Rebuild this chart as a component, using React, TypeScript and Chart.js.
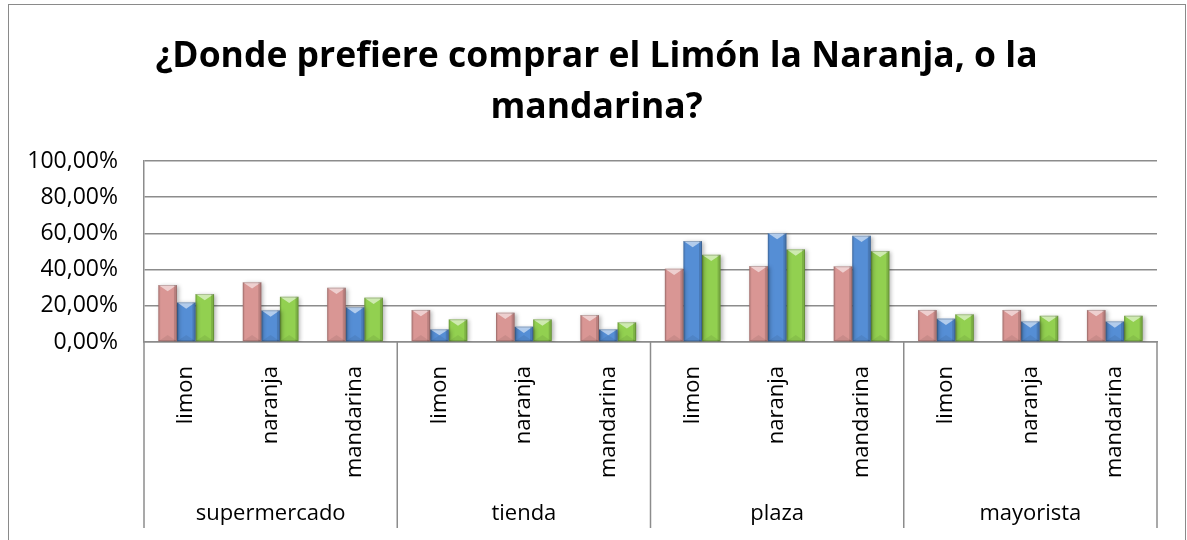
import React, { useEffect, useRef } from 'react';
import { Chart, registerables } from 'chart.js';

Chart.register(...registerables);

const groups = ['supermercado', 'tienda', 'plaza', 'mayorista'];
const fruits = ['limon', 'naranja', 'mandarina'];
const seriesNames = ['Serie 1', 'Serie 2', 'Serie 3'];
const serie1 = [31.5, 33.0, 30.0, 17.7, 16.2, 14.9, 40.5, 42.0, 41.8, 17.7, 17.7, 17.7];
const serie2 = [21.9, 17.5, 19.3, 7.0, 8.5, 7.0, 55.8, 60.2, 58.7, 12.9, 11.4, 11.4];
const serie3 = [26.5, 25.0, 24.5, 12.5, 12.5, 10.9, 48.2, 51.2, 50.3, 15.3, 14.5, 14.5];
const yTicks = [0, 20, 40, 60, 80, 100];
const titleLines = ['¿Donde prefiere comprar el Limón la Naranja, o la', 'mandarina?'];

const categories = groups.flatMap(() => fruits);
const seriesColors = ['#D99694', '#558ED5', '#92D050'];

const FONT = "'Open Sans', 'DejaVu Sans', sans-serif";
const LINE = '#8c8c8c';

const framePlugin = {
  id: 'frame',
  beforeDraw(chart: any) {
    const ctx = chart.ctx;
    ctx.save();
    ctx.fillStyle = '#ffffff';
    ctx.fillRect(0, 0, chart.width, chart.height);
    ctx.strokeStyle = '#8a8a8a';
    ctx.lineWidth = 1;
    ctx.strokeRect(8.5, 4.5, chart.width - 10, chart.height + 20);
    ctx.restore();
  },
  beforeDatasetsDraw(chart: any) {
    const ctx = chart.ctx;
    ctx.save();
    ctx.shadowColor = 'rgba(0,0,0,0.28)';
    ctx.shadowBlur = 4;
    ctx.shadowOffsetX = 2;
    ctx.shadowOffsetY = 1;
  },
  afterDatasetsDraw(chart: any) {
    const ctx = chart.ctx;
    ctx.restore();
    ctx.save();
    chart.data.datasets.forEach((_: any, di: number) => {
      const meta = chart.getDatasetMeta(di);
      meta.data.forEach((bar: any) => {
        const { x, y, base, width } = bar.getProps(['x', 'y', 'base', 'width'], true);
        const l = x - width / 2;
        const r = x + width / 2;
        const h = base - y;
        const t = Math.min(width * 0.34, h / 2);
        ctx.fillStyle = 'rgba(255,255,255,0.55)';
        ctx.beginPath();
        ctx.moveTo(l, y);
        ctx.lineTo(r, y);
        ctx.lineTo(x, y + t);
        ctx.closePath();
        ctx.fill();
        ctx.fillStyle = 'rgba(0,0,0,0.07)';
        ctx.beginPath();
        ctx.moveTo(l, base);
        ctx.lineTo(r, base);
        ctx.lineTo(x, base - t);
        ctx.closePath();
        ctx.fill();
        ctx.fillStyle = 'rgba(0,0,0,0.06)';
        ctx.fillRect(l, y, 2, h);
        ctx.fillStyle = 'rgba(0,0,0,0.14)';
        ctx.fillRect(r - 3, y, 3, h);
        ctx.strokeStyle = 'rgba(0,0,0,0.18)';
        ctx.lineWidth = 1;
        ctx.strokeRect(l + 0.5, y + 0.5, width - 1, h - 1);
      });
    });
    ctx.restore();
  },
  afterDraw(chart: any) {
    const ctx = chart.ctx;
    const xs = chart.scales.x;
    const x2 = chart.scales.x2;
    const half = (xs.getPixelForValue(1) - xs.getPixelForValue(0)) / 2;
    const top = chart.chartArea.bottom;
    const bottom = x2.bottom - 12;
    ctx.save();
    ctx.strokeStyle = LINE;
    ctx.lineWidth = 1.5;
    for (let g = 0; g <= groups.length; g++) {
      const idx = g * fruits.length;
      const px = g < groups.length ? xs.getPixelForValue(idx) - half : xs.getPixelForValue(idx - 1) + half;
      ctx.beginPath();
      ctx.moveTo(px, top);
      ctx.lineTo(px, bottom);
      ctx.stroke();
    }
    ctx.restore();
  },
};

export default function App() {
  const ref = useRef<HTMLCanvasElement | null>(null);

  useEffect(() => {
    if (!ref.current) return;
    Chart.defaults.font.family = FONT;
    const chart = new Chart(ref.current, {
      type: 'bar',
      data: {
        labels: categories,
        datasets: [serie1, serie2, serie3].map((d, i) => ({
          label: seriesNames[i],
          data: d,
          backgroundColor: seriesColors[i],
          borderWidth: 0,
          categoryPercentage: 0.66,
          barPercentage: 1,
          xAxisID: 'x',
          yAxisID: 'y',
        })),
      },
      options: {
        animation: false,
        responsive: false,
        layout: { padding: { left: 6, right: 0, top: 0, bottom: 0 } },
        plugins: {
          legend: { display: false },
          tooltip: { enabled: false },
          title: {
            display: true,
            text: titleLines,
            color: '#000000',
            font: { family: FONT, size: 35.5, weight: 'bold', lineHeight: 51 / 35.5 },
            padding: { top: 31, bottom: 28 },
          },
        },
        scales: {
          x: {
            type: 'category',
            position: 'bottom',
            weight: 0,
            offset: true,
            grid: { display: false },
            border: { display: true, color: LINE, width: 1.5 },
            ticks: {
              autoSkip: false,
              maxRotation: 90,
              minRotation: 90,
              padding: 16,
              color: '#000000',
              font: { family: FONT, size: 22 },
            },
            afterFit: (s: any) => { s.height = 136; },
          },
          x2: {
            type: 'category',
            position: 'bottom',
            weight: 1,
            labels: groups,
            offset: true,
            grid: { display: false },
            border: { display: false },
            ticks: {
              autoSkip: false,
              maxRotation: 0,
              minRotation: 0,
              padding: 15,
              color: '#000000',
              font: { family: FONT, size: 22 },
            },
            afterFit: (s: any) => { s.height = 62; },
          },
          y: {
            position: 'left',
            min: yTicks[0],
            max: yTicks[yTicks.length - 1],
            afterBuildTicks: (s: any) => { s.ticks = yTicks.map((v) => ({ value: v })); },
            grid: { color: LINE, lineWidth: 1.5, drawTicks: false },
            border: { display: true, color: LINE, width: 1.5 },
            ticks: {
              padding: 26,
              color: '#000000',
              font: { family: FONT, size: 23 },
              callback: (v: any) => Number(v).toFixed(2).replace('.', ',') + '%',
            },
            afterFit: (s: any) => { s.width = 138; },
          },
          yRight: {
            type: 'linear',
            position: 'right',
            min: 0,
            max: 100,
            grid: { display: false },
            border: { display: false },
            ticks: { display: false },
            afterFit: (s: any) => { s.width = 30; },
          },
        },
      },
      plugins: [framePlugin],
    } as any);
    return () => chart.destroy();
  }, []);

  return (
    <div style={{ position: 'fixed', left: 0, top: 0, width: 1187, height: 540 }}>
      <canvas ref={ref} width={1187} height={540} style={{ display: 'block', width: 1187, height: 540 }} />
    </div>
  );
}
